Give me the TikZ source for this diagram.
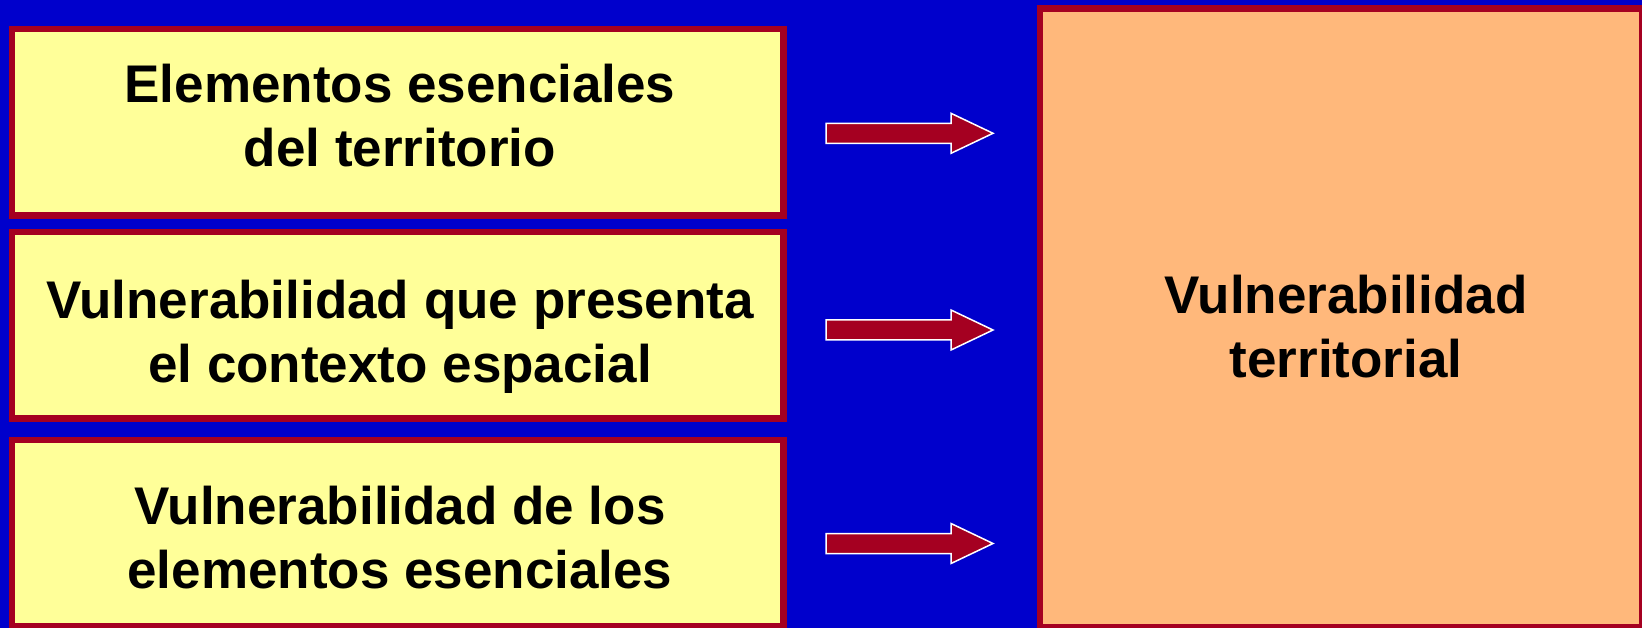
\documentclass[tikz,border=0pt]{standalone}
\usepackage{fontspec}
\setmainfont{Liberation Sans}
\definecolor{bgblue}{HTML}{0000CC}
\definecolor{bordred}{HTML}{A50021}
\definecolor{boxyellow}{HTML}{FFFF99}
\definecolor{boxorange}{HTML}{FFB87B}
\tikzset{
  leftbox/.style={draw=bordred, fill=boxyellow, line width=6.5pt, rectangle, inner sep=0pt, minimum width=771.5pt},
  rightbox/.style={draw=bordred, fill=boxorange, line width=6.5pt, rectangle, inner sep=0pt},
  boxtext/.style={anchor=north, inner sep=0pt, align=center, text=black, font=\fontsize{53}{64}\selectfont\bfseries},
  bigarrow/.style={fill=bordred, draw=white, line width=1.5pt, line join=miter}
}
\begin{document}
\begin{tikzpicture}[x=1pt, y=-1pt]
\useasboundingbox (0,0) rectangle (1642,628);
\fill[bgblue] (0,0) rectangle (1642,628);

\node[leftbox, minimum height=186.5pt] (b1) at (397.75,122.5) {};
\node[leftbox, minimum height=186pt] (b2) at (397.75,325.25) {};
\node[leftbox, minimum height=186pt] (b3) at (397.75,533) {};
\node[rightbox, minimum width=601.75pt, minimum height=619pt] (vt) at (1341.1,317.8) {};

\node[boxtext] (t1) at (400,63.8) {Elementos esenciales\\del territorio};
\node[boxtext] (t2) at (400,279.4) {Vulnerabilidad que presenta\\el contexto espacial};
\node[boxtext] (t3) at (400,486.1) {Vulnerabilidad de los\\elementos esenciales};
\node[boxtext] (t4) at (1346,274.8) {Vulnerabilidad\\territorial};

\coordinate (a1) at (826,133.3);
\coordinate (a2) at (826,330);
\coordinate (a3) at (826,543.5);
\foreach \a in {a1,a2,a3}{
  \draw[bigarrow, shift={(\a)}] (0,-10) -- (125,-10) -- (125,-20) -- (167,0) -- (125,20) -- (125,10) -- (0,10) -- cycle;
}
\end{tikzpicture}
\end{document}
